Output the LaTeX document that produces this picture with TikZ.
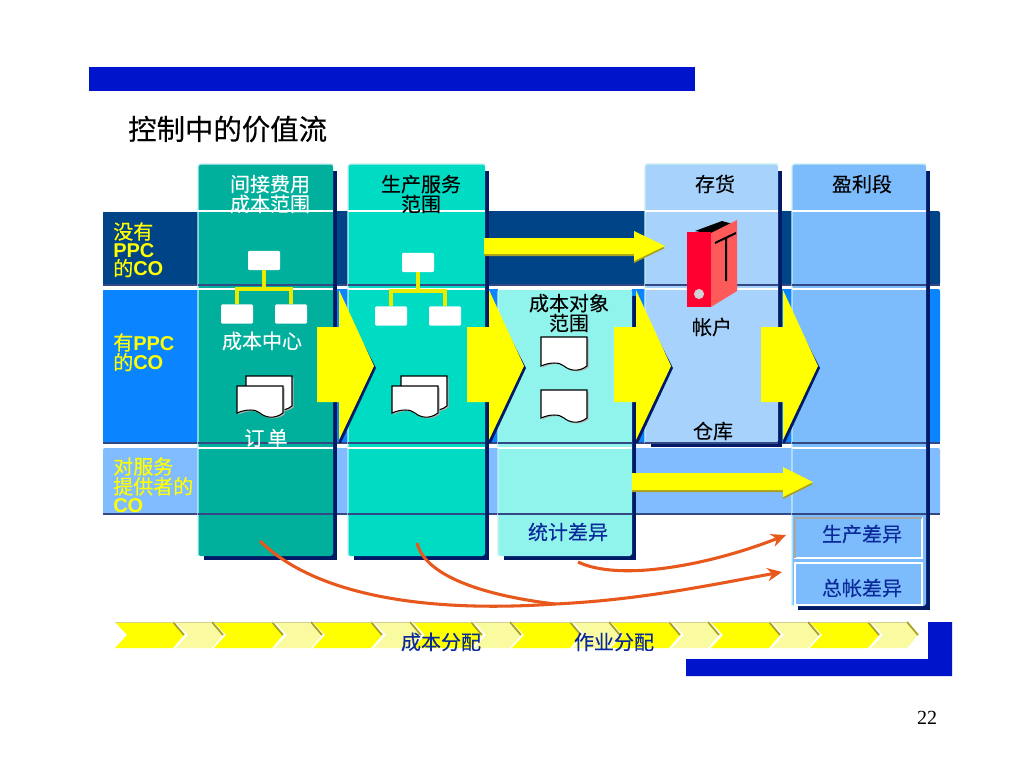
\documentclass[tikz,border=0pt]{standalone}
\usepackage{fontspec}
\setmainfont{Liberation Sans}
\newfontfamily\cjk{Noto Sans CJK SC}
\newfontfamily\cjkmed[FakeBold=0.35]{Noto Sans CJK SC}
\newfontfamily\cjkthin[FakeBold=0.15]{Noto Sans CJK SC}
\newfontfamily\numfont{Liberation Serif}
\usetikzlibrary{arrows.meta}
\definecolor{barblue}{HTML}{0014CC}
\definecolor{navy}{HTML}{001A66}
\definecolor{bandA}{HTML}{004488}
\definecolor{bandB}{HTML}{0A84FF}
\definecolor{bandC}{HTML}{80BCFF}
\definecolor{colA}{HTML}{00B09C}
\definecolor{colB}{HTML}{00DCC4}
\definecolor{colC}{HTML}{90F4EC}
\definecolor{colD}{HTML}{A6D2FC}
\definecolor{colE}{HTML}{7CBCFC}
\definecolor{edgeL}{HTML}{C8F0F4}
\definecolor{orangeline}{HTML}{E8581C}
\definecolor{textblue}{HTML}{0A2A9A}
\definecolor{ybright}{HTML}{FFFF00}
\definecolor{ylight}{HTML}{FAFAA0}
\definecolor{yshade}{HTML}{A8A020}
\definecolor{binderfront}{HTML}{FF0030}
\definecolor{binderside}{HTML}{FF5A5A}
\tikzset{
  x=0.75pt,y=-0.75pt,
  coltext/.style={font=\cjkthin\fontsize{15}{13.5}\selectfont,align=center,inner sep=0pt},
  rowtext/.style={font=\cjkmed\fontsize{15}{13.8}\selectfont,align=left,anchor=north west,inner sep=0pt,text=ybright},
  orgbox/.style={fill=white,rounded corners=1pt,inner sep=0pt,minimum width=24pt,minimum height=14.5pt},
  orgline/.style={draw=ybright!92!black,line width=2.6pt},
  curve/.style={draw=orangeline,line width=2.3pt},
  curvetip/.style={curve,-{Stealth[length=11pt,width=10pt]}},
  docshape/.style={fill=white,draw=black,line width=0.8pt},
  subbox/.style={fill=colE,draw=white,line width=1pt}
}
\newcommand{\lat}[1]{{\fontspec{Liberation Sans}\bfseries #1}}
\newcommand{\docat}[4]{% x y w h
  \fill[gray!60] (#1+1.5,#2+1.5) -- (#1+#3+1.5,#2+1.5) -- (#1+#3+1.5,#2+#4+1.5)
     .. controls (#1+#3*0.8+1.5,#2+#4+8) and (#1+#3*0.6+1.5,#2+#4+5) .. (#1+#3*0.5+1.5,#2+#4+1.5)
     .. controls (#1+#3*0.4+1.5,#2+#4-3) and (#1+#3*0.2+1.5,#2+#4-3) .. (#1+1.5,#2+#4+1.5) -- cycle;
  \path[docshape] (#1,#2) -- (#1+#3,#2) -- (#1+#3,#2+#4)
     .. controls (#1+#3*0.8,#2+#4+7) and (#1+#3*0.6,#2+#4+4) .. (#1+#3*0.5,#2+#4)
     .. controls (#1+#3*0.4,#2+#4-4) and (#1+#3*0.2,#2+#4-4) .. (#1,#2+#4) -- cycle;}
\begin{document}
\begin{tikzpicture}
\useasboundingbox (0,0) rectangle (1024,768);
\fill[white] (0,0) rectangle (1024,768);
% frame bars
\fill[barblue] (89,67) rectangle (695,91);
\fill[barblue] (928,622) -- (952,622) -- (952,676) -- (686,676) -- (686,659) -- (928,659) -- cycle;
\node[font=\cjkmed\fontsize{21.3}{24}\selectfont,anchor=west,inner sep=0pt] (title) at (128,129) {控制中的价值流};
% bands
\fill[bandA,rounded corners=1.5pt] (103,211) rectangle (940,285);
\fill[bandB,rounded corners=1.5pt] (103,289) rectangle (940,443);
\fill[bandC,rounded corners=1.5pt] (103,448) rectangle (940,514);
\draw[navy!80,line width=0.8pt] (103,285) -- (940,285) (103,443) -- (940,443) (103,514) -- (940,514);
\draw[white,line width=0.8pt] (103,211) -- (198,211) (103,289) -- (198,289);
% columns
\newcommand{\column}[6]{% x0 y0 x1 y1 colour edge
  \fill[navy] (#1+6,#2+7) -- (#3+4,#2+7) -- (#3+4,#4+4) -- (#1+6,#4+4) -- cycle;
  \fill[#5,rounded corners=2pt] (#1,#2) rectangle (#3,#4);
  \draw[#6,line width=0.9pt,rounded corners=2pt] (#1,#4) -- (#1,#2) -- (#3,#2);}
\column{198}{164}{333}{556}{colA}{edgeL}
\column{348}{164}{485}{556}{colB}{edgeL}
\column{498}{289}{632}{556}{colC}{edgeL}
\column{645}{164}{778}{443}{colD}{edgeL}
\column{792}{164}{926}{606}{colE}{edgeL}
% row lines on columns
\foreach \a/\b in {198/333,348/485,645/778,792/926}{
  \draw[white,line width=0.8pt] (\a,211) -- (\b,211);
}
\foreach \a/\b in {198/333,348/485,498/632,645/778,792/926}{
  \draw[white,line width=0.8pt] (\a,289) -- (\b,289);
  \draw[navy!80,line width=0.8pt] (\a,285) -- (\b,285);
  \draw[navy!80,line width=0.8pt] (\a,443) -- (\b,443);
}
\foreach \a/\b in {198/333,348/485,498/632,792/926}{
  \draw[white,line width=0.8pt] (\a,448) -- (\b,448);
  \draw[navy!80,line width=0.8pt] (\a,514) -- (\b,514);
}
% large arrows
\foreach \a in {317,467,614,761}{
  \fill[navy] (\a+22,296) -- (\a+59,368) -- (\a+24,443) -- (\a+22,443) -- cycle;
  \fill[ybright] (\a,327) -- (\a+22,327) -- (\a+22,290) -- (\a+57,366) -- (\a+22,440) -- (\a+22,402) -- (\a,402) -- cycle;
}
% horizontal arrows
\fill[yshade] (484,240) -- (634,240) -- (634,233) -- (665,248) -- (634,263) -- (634,256) -- (484,256) -- cycle;
\fill[ybright] (484,238) -- (634,238) -- (634,231) -- (665,246) -- (634,261) -- (634,254) -- (484,254) -- cycle;
\fill[yshade] (632,475) -- (783,475) -- (783,469) -- (813,484) -- (783,499) -- (783,492) -- (632,492) -- cycle;
\fill[ybright] (632,473) -- (783,473) -- (783,467) -- (813,482) -- (783,497) -- (783,490) -- (632,490) -- cycle;
% column headers
\node[coltext,text=white] (h1) at (270,194) {间接费用\\成本范围};
\node[coltext] (h2) at (421,194) {生产服务\\范围};
\node[coltext] (h3) at (569,313) {成本对象\\范围};
\node[coltext] (h4) at (715,184) {存货};
\node[coltext] (h5) at (862,184) {盈利段};
% row labels
\node[rowtext] (r1) at (113,222) {没有\\\lat{PPC}\\\mbox{的\lat{CO}}};
\node[rowtext] (r2) at (113,333) {\mbox{有\lat{PPC}}\\\mbox{的\lat{CO}}};
\node[rowtext] (r3) at (113,457) {对服务\\提供者的\\\lat{CO}};
% organisation charts
\node[orgbox] (a0) at (264,260.5) {};
\node[orgbox] (a1) at (237,314) {};
\node[orgbox] (a2) at (291,314) {};
\draw[orgline] (a0.south) -- (264,289) -| (a1.north);
\draw[orgline] (a0.south) -- (264,289) -| (a2.north);
\node[orgbox] (b0) at (418,262.5) {};
\node[orgbox] (b1) at (391,316) {};
\node[orgbox] (b2) at (445,316) {};
\draw[orgline] (b0.south) -- (418,291) -| (b1.north);
\draw[orgline] (b0.south) -- (418,291) -| (b2.north);
\node[coltext,text=white] (l1) at (262,341) {成本中心};
\begin{scope}
\clip (198,420) rectangle (333,447.5);
\node[coltext,text=white] (l2) at (266,438) {订\,单};
\end{scope}
% documents
\docat{246}{376}{46}{30}
\docat{237}{386}{46}{27}
\docat{401}{376}{46}{30}
\docat{392}{386}{46}{27}
\docat{541}{337}{46}{29}
\docat{541}{390}{46}{28}
% binder
\fill[black] (695,231) -- (722,221) -- (733,224) -- (711,234) -- cycle;
\fill[binderfront] (687,232) -- (711,232) -- (711,307) -- (687,307) -- cycle;
\fill[binderside] (711,233) -- (737,220) -- (737,291) -- (711,307) -- cycle;
\fill[gray!35] (699,294) circle[radius=3.8pt];
\draw[black,line width=1.5pt] (715,243) -- (736,233) (726,238) -- (726,281);
\node[coltext] (acc) at (712,327) {帐户};
\node[coltext] (wh) at (713,431) {仓库};
% lower boxes
\draw[subbox] (795,518) rectangle (922,558);
\draw[subbox] (795,563) rectangle (922,605);
\draw[gray!70,line width=0.8pt] (795,558) -- (795,518) -- (922,518);
\node[coltext,text=textblue] (v0) at (568,532) {统计差异};
\node[coltext,text=textblue] (v1) at (862,534) {生产差异};
\node[coltext,text=textblue] (v2) at (862,588) {总帐差异};
% chevrons
\foreach \a in {115,214,313,413,512,611,711,810}{
  \fill[ybright] (\a,622) -- (\a+58,622) -- (\a+69,635) -- (\a+58,648) -- (\a,648) -- (\a+12,635) -- cycle;
  \draw[yshade,line width=1.3pt] (\a+58,622) -- (\a+69,635);
  \fill[ylight] (\a+61,622) -- (\a+97,622) -- (\a+108,635) -- (\a+97,648) -- (\a+61,648) -- (\a+73,635) -- cycle;
  \draw[yshade,line width=1.3pt] (\a+97,622) -- (\a+108,635);
  \draw[yshade!50,line width=0.4pt] (\a,622) -- (\a+97,622);
}
\node[coltext,text=textblue] (c1) at (441,642) {成本分配};
\node[coltext,text=textblue] (c2) at (614,642) {作业分配};
% curves
\coordinate (s1) at (260,541);
\coordinate (s2) at (417,543);
\coordinate (s3) at (578,562);
\coordinate (m) at (555,604);
\coordinate (e1) at (786,535);
\coordinate (e2) at (782,572);
\draw[curve] (s1) .. controls (320,600) and (440,612) .. (m);
\draw[curve] (s2) .. controls (425,575) and (480,595) .. (m);
\draw[curvetip] (m) .. controls (640,600) and (710,585) .. (e2);
\draw[curvetip] (s3) .. controls (620,582) and (710,565) .. (e1);
\node[font=\numfont\fontsize{15}{18}\selectfont,inner sep=0pt] (pg) at (927,718) {22};
\end{tikzpicture}
\end{document}
